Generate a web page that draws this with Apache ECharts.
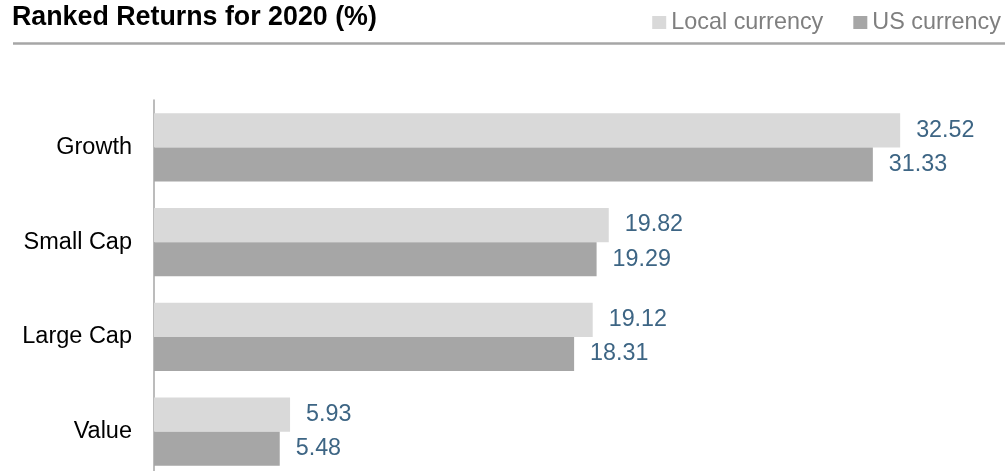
<!DOCTYPE html>
<html>
<head>
<meta charset="utf-8">
<style>
  html, body { margin: 0; padding: 0; background: #fff; }
  #chart { width: 1007px; height: 471px; }
</style>
<script src="https://cdn.jsdelivr.net/npm/echarts@6/dist/echarts.min.js"></script>
</head>
<body>
<div id="chart"></div>
<script>
const categories = ['Growth', 'Small Cap', 'Large Cap', 'Value'];
const localCurrency = [32.52, 19.82, 19.12, 5.93];
const usCurrency = [31.33, 19.29, 18.31, 5.48];
const seriesNames = ['Local currency', 'US currency'];
const titleText = 'Ranked Returns for 2020 (%)';

const FONT = "'Liberation Sans', Arial, Helvetica, sans-serif";
const chart = echarts.init(document.getElementById('chart'), null, { renderer: 'canvas' });

const labelCfg = {
  show: true,
  position: 'right',
  distance: 16,
  color: '#3d6584',
  fontSize: 23.3,
  fontFamily: FONT,
  formatter: p => p.value.toFixed(2)
};

chart.setOption({
  animation: false,
  backgroundColor: '#ffffff',
  title: {
    text: titleText,
    left: 12,
    top: 4,
    padding: 0,
    textStyle: { fontSize: 26.8, fontWeight: 'bold', color: '#000000', fontFamily: FONT }
  },
  legend: {
    right: 6,
    top: 11,
    padding: 0,
    itemWidth: 14,
    itemHeight: 13,
    itemGap: 30,
    icon: 'rect',
    textStyle: { fontSize: 23.4, color: '#7f7f7f', fontFamily: FONT },
    data: seriesNames
  },
  graphic: [{
    type: 'line',
    shape: { x1: 13, y1: 43.5, x2: 1005, y2: 43.5 },
    style: { stroke: '#a6a6a6', lineWidth: 2.5 },
    silent: true
  }],
  grid: { left: 154, right: 27, top: 100, height: 379, containLabel: false, outerBoundsMode: 'none' },
  xAxis: {
    type: 'value',
    min: 0,
    max: 36,
    show: false
  },
  yAxis: {
    type: 'category',
    data: categories,
    inverse: true,
    axisLine: { show: true, lineStyle: { color: '#a6a6a6', width: 1.5 } },
    axisTick: { show: false },
    axisLabel: { fontSize: 23.5, color: '#000000', fontFamily: FONT, margin: 22 },
    splitLine: { show: false }
  },
  series: [
    {
      name: seriesNames[0],
      type: 'bar',
      data: localCurrency,
      barGap: '0%',
      barCategoryGap: '28%',
      itemStyle: { color: '#d9d9d9' },
      label: labelCfg
    },
    {
      name: seriesNames[1],
      type: 'bar',
      data: usCurrency,
      barGap: '0%',
      barCategoryGap: '28%',
      itemStyle: { color: '#a6a6a6' },
      label: labelCfg
    }
  ]
});
</script>
</body>
</html>
